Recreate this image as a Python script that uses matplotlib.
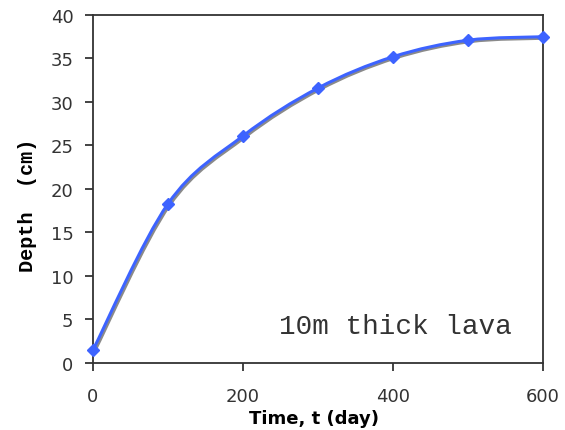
import numpy as np
import matplotlib
matplotlib.use('Agg')
from matplotlib import pyplot as plt
from matplotlib.path import Path
from matplotlib.patches import PathPatch
import matplotlib.transforms as mtransforms

# Datos
tiempo = [0, 100, 200, 300, 400, 500, 600]
profundidad = [1.5, 18.3, 26.1, 31.6, 35.2, 37.1, 37.5]


# Curva suavizada tipo Excel (Bezier cúbico sobre los puntos)
def ruta_suave(xs, ys, k=1 / 6):
    pts = np.column_stack([xs, ys]).astype(float)
    verts = [pts[0]]
    codes = [Path.MOVETO]
    n = len(pts)
    for i in range(n - 1):
        p0 = pts[max(i - 1, 0)]
        p1 = pts[i]
        p2 = pts[i + 1]
        p3 = pts[min(i + 2, n - 1)]
        verts += [p1 + (p2 - p0) * k, p2 - (p3 - p1) * k, p2]
        codes += [Path.CURVE4] * 3
    return Path(verts, codes)


fig = plt.figure(figsize=(5.65, 4.31), dpi=100)
ax = fig.add_axes([0.1646, 0.1555, 0.7965, 0.8074])

ruta = ruta_suave(tiempo, profundidad)

# Sombra gris debajo de la línea
sombra = mtransforms.offset_copy(ax.transData, fig=fig, x=1.5, y=-1.5, units='dots')
ax.add_patch(PathPatch(ruta, fill=False, edgecolor='#8a8a8a', lw=2.2, transform=sombra, zorder=2))
ax.add_patch(PathPatch(ruta, fill=False, edgecolor='#3d63ff', lw=2.2, zorder=3))
ax.plot(tiempo, profundidad, linestyle='none', marker='D', markersize=6,
        color='#3d63ff', zorder=4, clip_on=False)

ax.set_xlim(0, 600)
ax.set_ylim(0, 40)
ax.set_xticks([0, 200, 400, 600])
ax.set_yticks(range(0, 41, 5))
ax.tick_params(direction='out', length=6, width=1.2, labelsize=13, colors='#222222')
ax.tick_params(axis='x', pad=11)
ax.tick_params(axis='y', pad=8)
for lbl in ax.get_xticklabels() + ax.get_yticklabels():
    lbl.set_fontfamily('DejaVu Sans')
    lbl.set_color('#333333')
for spine in ax.spines.values():
    spine.set_linewidth(1.3)
    spine.set_color('#333333')

ax.set_xlabel('Time, t (day)', fontsize=13, fontweight='bold', family='DejaVu Sans')
ax.xaxis.set_label_coords(0.49, -0.133)
ax.set_ylabel('Depth  (cm)', fontsize=14.5, fontweight='bold', family='Liberation Mono')
ax.yaxis.set_label_coords(-0.124, 0.457)

ax.text(0.93, 0.105, '10m thick lava', transform=ax.transAxes, ha='right', va='center',
        fontsize=20, family='Liberation Mono', color='#333333')

fig.savefig('out.png', dpi=100)
